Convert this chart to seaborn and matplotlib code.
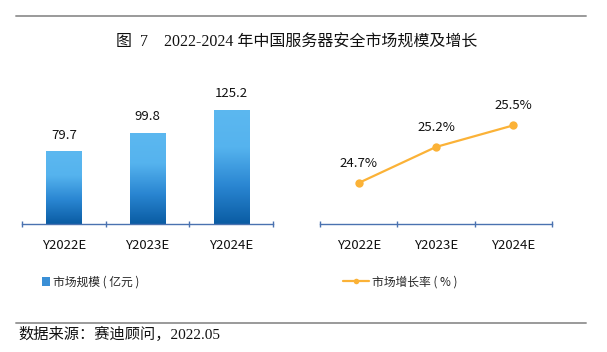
import numpy as np
import pandas as pd
import matplotlib
matplotlib.use("Agg")
import matplotlib.pyplot as plt
import seaborn as sns
from matplotlib.colors import LinearSegmentedColormap
from matplotlib.lines import Line2D
from matplotlib.patches import Patch

years = ["Y2022E", "Y2023E", "Y2024E"]
market_size = [79.7, 99.8, 125.2]      # 亿元
growth_rate = [24.7, 25.2, 25.5]       # %

title = "图  7    2022-2024 年中国服务器安全市场规模及增长"
source = "数据来源：赛迪顾问，2022.05"
size_label = "市场规模 ( 亿元 )"
rate_label = "市场增长率 ( % )"

sns.set_theme(style="white")
sans = ["Noto Sans CJK SC", "DejaVu Sans"]
serif = ["Liberation Serif", "Noto Sans CJK SC"]
plt.rcParams["font.family"] = sans

axis_blue = "#4A72B0"
orange = "#FBB237"

fig = plt.figure(figsize=(6.07, 3.52), dpi=100)

# header / footer rules
fig.add_artist(Line2D([16 / 607, 586 / 607], [1 - 16 / 352] * 2, color="#9a9a9a", lw=1.4))
fig.add_artist(Line2D([16 / 607, 586 / 607], [1 - 323 / 352] * 2, color="#9a9a9a", lw=1.4))
fig.text(297 / 607, 1 - 43 / 352, title, ha="center", va="center", fontsize=11.5,
         family=serif, color="#111111")
fig.text(18 / 607, 1 - 334 / 352, source, ha="left", va="center", fontsize=11,
         family=serif, color="#111111")

df_bar = pd.DataFrame({"year": years, "size": market_size})
df_line = pd.DataFrame({"year": years, "rate": growth_rate})


def style_axis(ax):
    for s in ["top", "right", "left"]:
        ax.spines[s].set_visible(False)
    ax.spines["bottom"].set_color(axis_blue)
    ax.spines["bottom"].set_linewidth(1.0)
    ax.set_yticks([])
    ax.set_xlim(-0.5, 2.5)
    ax.set_xticks([-0.5, 0.5, 1.5, 2.5])
    ax.set_xticklabels([])
    ax.set_xticks([0, 1, 2], minor=True)
    ax.set_xticklabels(years, minor=True)
    ax.tick_params(axis="x", which="major", direction="inout", length=5,
                   width=1.0, color=axis_blue, bottom=True)
    ax.tick_params(axis="x", which="minor", length=0, pad=11, labelsize=9.5,
                   labelcolor="#111111")
    ax.set_xlabel("")
    ax.set_ylabel("")


# left: bars with gradient
ax1 = fig.add_axes([22 / 607, 128 / 352, 251 / 607, 144 / 352])
sns.barplot(data=df_bar, x="year", y="size", ax=ax1, width=0.42, color="#3A8FD6")
ax1.set_ylim(0, 158)
cmap = LinearSegmentedColormap.from_list("blu", ["#0A5CA3", "#2A86D2", "#55B3EE", "#5CB8F0"])
grad = np.linspace(0, 1, 256).reshape(-1, 1)
for p in ax1.patches:
    x0, y0 = p.get_x(), p.get_y()
    w, h = p.get_width(), p.get_height()
    im = ax1.imshow(grad, cmap=cmap, origin="lower", aspect="auto",
                    extent=[x0, x0 + w, y0, y0 + h], zorder=2)
    im.set_clip_path(p)
    p.set_facecolor("none")
    p.set_edgecolor("none")
ax1.set_ylim(0, 158)
ax1.bar_label(ax1.containers[0], labels=[f"{v:.1f}" for v in market_size],
              padding=7, fontsize=9.5, color="#111111")
style_axis(ax1)

# right: growth line
ax2 = fig.add_axes([320 / 607, 128 / 352, 232 / 607, 144 / 352])
sns.lineplot(data=df_line, x="year", y="rate", ax=ax2, color=orange, lw=1.6,
             marker="o", markersize=6, markeredgewidth=0, sort=False)
ax2.set_ylim(24.13, 26.13)
for i, v in enumerate(growth_rate):
    ax2.annotate(f"{v:.1f}%", (i, v), xytext=(0, 14), textcoords="offset points",
                 ha="center", va="center", fontsize=9.5, color="#111111")
style_axis(ax2)

# legends
h1 = [Patch(facecolor="#3A8FD6", edgecolor="none")]
fig.legend(h1, [size_label], loc="center left", bbox_to_anchor=(36 / 607, 1 - 282 / 352),
           frameon=False, fontsize=8.5, handlelength=0.7, handleheight=0.7,
           handletextpad=0.2, borderpad=0)
h2 = [Line2D([], [], color=orange, lw=1.6, marker="o", markersize=4, markeredgewidth=0)]
fig.legend(h2, [rate_label], loc="center left", bbox_to_anchor=(337 / 607, 1 - 282 / 352),
           frameon=False, fontsize=8.5, handlelength=2.2, handletextpad=0.3, borderpad=0)

fig.savefig("out.png", dpi=100, facecolor="white")
